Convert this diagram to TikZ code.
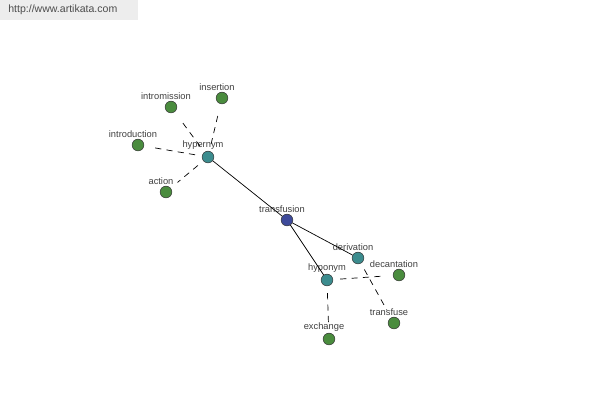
\documentclass[tikz,border=0pt]{standalone}
\usepackage{fontspec}
\setmainfont{Liberation Sans}
\usetikzlibrary{positioning}
\definecolor{rootblue}{RGB}{62,74,154}
\definecolor{relteal}{RGB}{60,140,142}
\definecolor{wordgreen}{RGB}{74,140,62}

\begin{document}
\begin{tikzpicture}[x=0.02cm, y=-0.02cm,
  every node/.style={inner sep=0pt},
  wnode/.style={circle, draw=black!80, line width=0.3pt, minimum size=0.235cm, fill=wordgreen},
  rnode/.style={wnode, fill=relteal},
  rootnode/.style={wnode, fill=rootblue},
  lbl/.style={font=\fontsize{5.3}{6}\selectfont, text=black!75, xshift=-0.1cm},
  every label/.style={lbl},
  label distance=0.6pt,
  solidlink/.style={black, line width=0.4pt},
  dashlink/.style={black, line width=0.4pt, dash pattern=on 3.5pt off 3pt, shorten >=5pt, shorten <=4pt}]
  \useasboundingbox (0,0) rectangle (600,400);
  % header
  \fill[black!7] (0,0) rectangle (138,20);
  \node[anchor=west, font=\fontsize{6}{7}\selectfont, text=black!70] (site) at (8,10) {http://www.artikata.com};
  % nodes
  \node[rootnode, label=above:transfusion] (transfusion) at (287,220) {};
  \node[rnode, label=above:hypernym] (hypernym) at (208,157) {};
  \node[rnode, label=above:derivation] (derivation) at (358,258) {};
  \node[rnode, label={[xshift=0.1cm]above:hyponym}] (hyponym) at (327,280) {};
  \node[wnode, label=above:intromission] (intromission) at (171,107) {};
  \node[wnode, label=above:insertion] (insertion) at (222,98) {};
  \node[wnode, label=above:introduction] (introduction) at (138,145) {};
  \node[wnode, label=above:action] (action) at (166,192) {};
  \node[wnode, label=above:decantation] (decantation) at (399,275) {};
  \node[wnode, label=above:transfuse] (transfuse) at (394,323) {};
  \node[wnode, label=above:exchange] (exchange) at (329,339) {};
  % links
  \draw[solidlink] (transfusion) -- (hypernym);
  \draw[solidlink] (transfusion) -- (derivation);
  \draw[solidlink] (transfusion) -- (hyponym);
  \draw[dashlink] (hypernym) -- (intromission);
  \draw[dashlink] (hypernym) -- (insertion);
  \draw[dashlink] (hypernym) -- (introduction);
  \draw[dashlink] (hypernym) -- (action);
  \draw[dashlink] (hyponym) -- (decantation);
  \draw[dashlink] (hyponym) -- (exchange);
  \draw[dashlink] (derivation) -- (transfuse);
\end{tikzpicture}
\end{document}
